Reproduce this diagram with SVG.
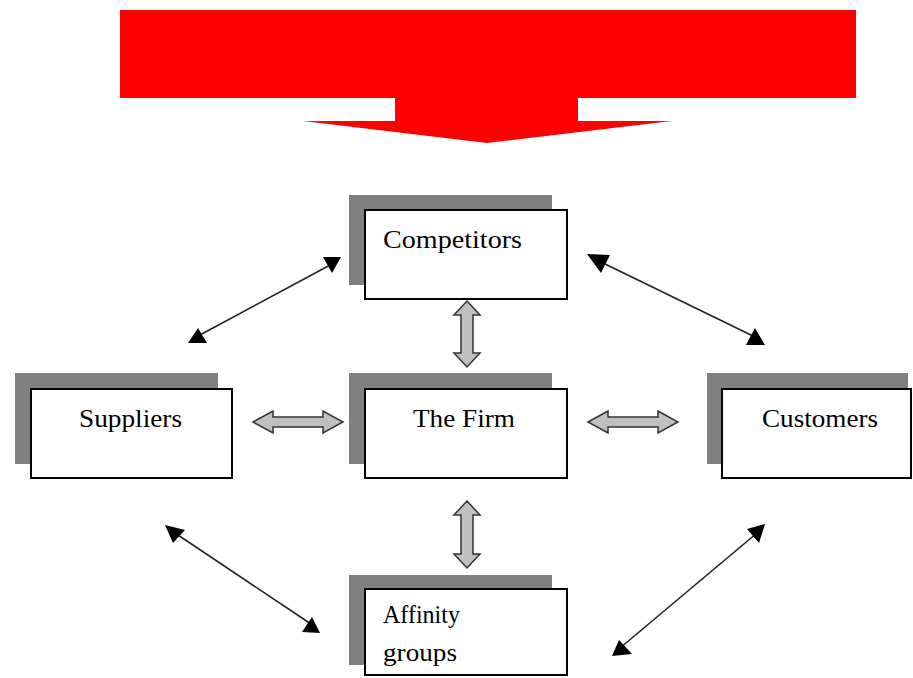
<svg xmlns="http://www.w3.org/2000/svg" width="913" height="678" viewBox="0 0 913 678">
<defs>
<style>
.shadow{fill:#808080}
.box{fill:#fff;stroke:#000;stroke-width:2}
.lbl{font-family:"Liberation Serif","Times New Roman",serif;font-size:25px;fill:#000}
.thin{stroke:#222;stroke-width:1.6;fill:none}
.head{fill:#000}
.fat{fill:#c0c0c0;stroke:#333;stroke-width:1.5;stroke-linejoin:miter}
</style>
</defs>
<rect width="913" height="678" fill="#fff"/>
<g id="big-arrow">
<polygon fill="#ff0000" points="120,10 856,10 856,98 578,98 578,121 672,121 487,143 303,121 395,121 395,98 120,98"/>
</g>
<g id="connectors">
<line class="thin" x1="198" y1="336" x2="332" y2="264"/>
<polygon class="head" points="323,257 341,257 332,273"/>
<polygon class="head" points="198,328 188,343 207,343"/>
<line class="thin" x1="601" y1="262" x2="755" y2="337"/>
<polygon class="head" points="587,254 610,255 601,273"/>
<polygon class="head" points="755,328 746,345 765,345"/>
<line class="thin" x1="620" y1="648" x2="757" y2="533"/>
<polygon class="head" points="747,529 765,524 759,543"/>
<polygon class="head" points="612,656 632,654 619,640"/>
<line class="thin" x1="175" y1="533" x2="311" y2="624"/>
<polygon class="head" points="165,525 185,530 173,543"/>
<polygon class="head" points="312,617 302,632 320,633"/>
<polygon class="fat" points="253,422 273,411 273,417 323,417 323,411 343,422 323,433 323,427 273,427 273,433"/>
<polygon class="fat" points="588,422 608,411 608,417 658,417 658,411 678,422 658,433 658,427 608,427 608,433"/>
<polygon class="fat" points="467,301 480,315 473,315 473,353 480,353 467,367 454,353 461,353 461,315 454,315"/>
<polygon class="fat" points="467,501 480,515 473,515 473,554 480,554 467,568 454,554 461,554 461,515 454,515"/>
</g>
<g id="competitors">
<rect class="shadow" x="349" y="195" width="203" height="90"/>
<rect class="box" x="365" y="210" width="202" height="89"/>
<text class="lbl" x="383" y="248" textLength="139" lengthAdjust="spacingAndGlyphs">Competitors</text>
</g>
<g id="suppliers">
<rect class="shadow" x="15" y="373" width="203" height="91"/>
<rect class="box" x="31" y="389" width="201" height="89"/>
<text class="lbl" x="79" y="427" textLength="103" lengthAdjust="spacingAndGlyphs">Suppliers</text>
</g>
<g id="the-firm">
<rect class="shadow" x="349" y="373" width="203" height="91"/>
<rect class="box" x="365" y="389" width="202" height="89"/>
<text class="lbl" x="413" y="427" textLength="102" lengthAdjust="spacingAndGlyphs">The Firm</text>
</g>
<g id="customers">
<rect class="shadow" x="707" y="373" width="201" height="91"/>
<rect class="box" x="722" y="389" width="189" height="89"/>
<text class="lbl" x="762" y="427" textLength="116" lengthAdjust="spacingAndGlyphs">Customers</text>
</g>
<g id="affinity-groups">
<rect class="shadow" x="349" y="575" width="203" height="90"/>
<rect class="box" x="365" y="589" width="202" height="86"/>
<text class="lbl" x="383" y="623" textLength="77" lengthAdjust="spacingAndGlyphs">Affinity</text>
<text class="lbl" x="383" y="661" textLength="74" lengthAdjust="spacingAndGlyphs">groups</text>
</g>
</svg>
